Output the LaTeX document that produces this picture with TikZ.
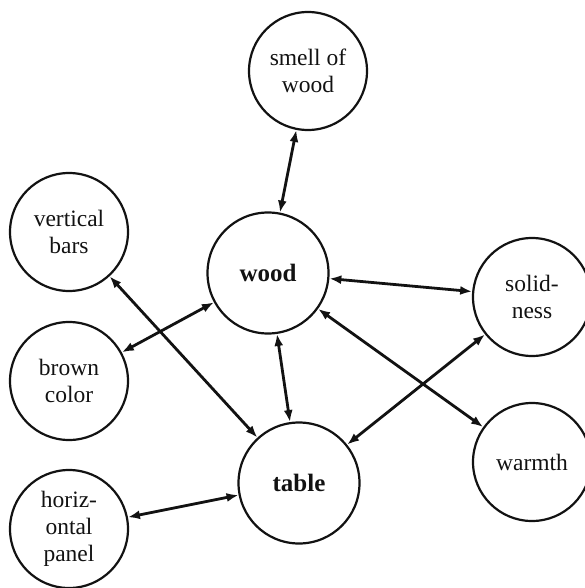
\documentclass[tikz,border=0pt]{standalone}
\usepackage{fontspec}
\setmainfont{Liberation Serif}
\usetikzlibrary{arrows.meta}
\definecolor{ink}{HTML}{121212}
\begin{document}
\begin{tikzpicture}[x=1pt,y=-1pt,
  concept/.style={draw=ink, line width=2.2pt, circle, minimum size=118pt,
    inner sep=0pt, align=center, text=ink,
    font=\fontsize{23.5}{27}\selectfont},
  hub/.style={concept, minimum size=121pt,
    font=\fontsize{25}{27}\selectfont\bfseries},
  link/.style={draw=ink, line width=2.8pt,
    {Latex[length=12pt,width=9pt]}-{Latex[length=12pt,width=9pt]}}
]
\useasboundingbox (0,0) rectangle (585,588);

% concepts
\node[concept] (smell) at (308,71)  {smell of\\wood};
\node[concept] (bars)  at (69,232)  {vertical\\bars};
\node[hub]     (wood)  at (268,273) {wood};
\node[concept] (solid) at (532,297) {solid-\\ness};
\node[concept] (brown) at (69,381)  {brown\\color};
\node[hub]     (table) at (299,483) {table};
\node[concept] (warm)  at (532,462) {warmth};
\node[concept] (panel) at (69,529)  {horiz-\\ontal\\panel};

% associations
\draw[link] (smell) -- (wood);
\draw[link] (wood) -- (brown);
\draw[link] (wood) -- (solid);
\draw[link] (wood) -- (table);
\draw[link] (wood) -- (warm);
\draw[link] (bars) -- (table);
\draw[link] (table) -- (solid);
\draw[link] (table) -- (panel);
\end{tikzpicture}
\end{document}
